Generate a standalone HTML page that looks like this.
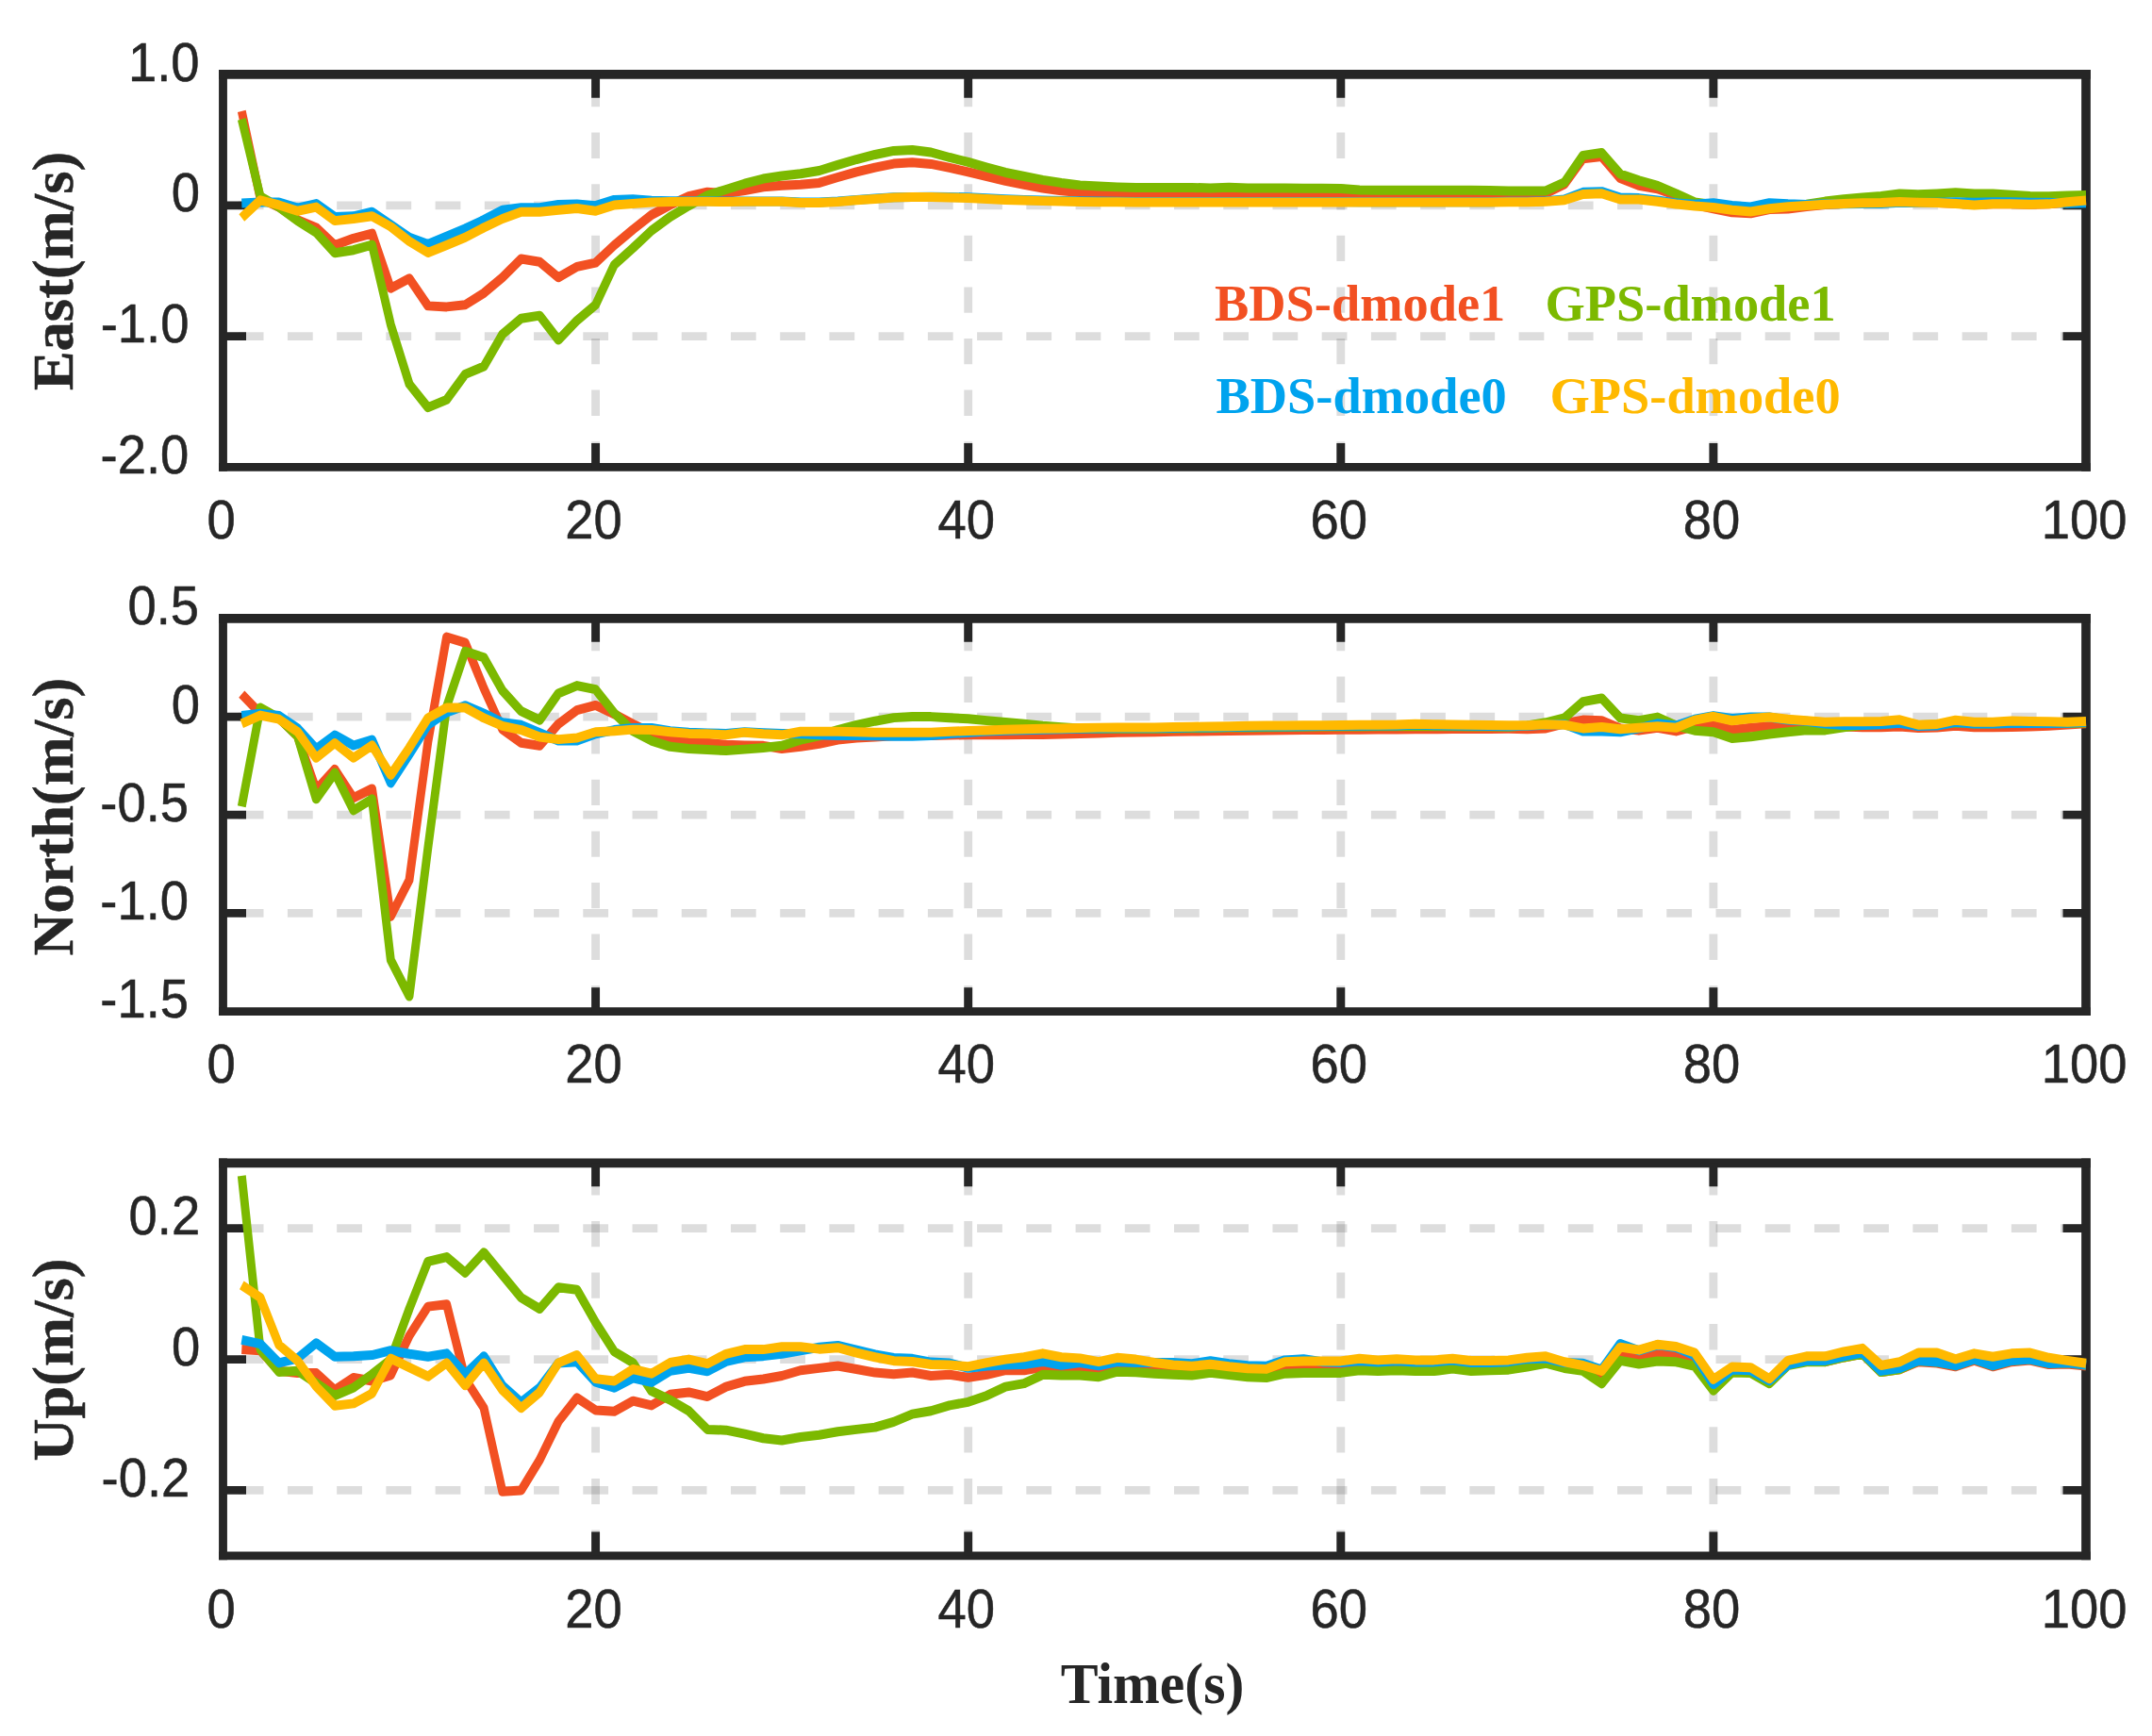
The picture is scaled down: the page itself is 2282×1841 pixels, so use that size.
<!DOCTYPE html>
<html><head><meta charset="utf-8"><title>Velocity error chart</title>
<style>html,body{margin:0;padding:0;background:#fff}body{width:2282px;height:1841px;overflow:hidden}svg{display:block}</style>
</head><body>
<svg width="2282" height="1841" viewBox="0 0 2282 1841">
<rect width="2282" height="1841" fill="#fff"/>
<g stroke="#000" stroke-opacity="0.135" fill="none">
<path d="M252.7 217.8H2212.0" stroke-width="8.75" stroke-dasharray="26.8 25.426"/>
<path d="M252.7 356.6H2212.0" stroke-width="8.75" stroke-dasharray="26.8 25.426"/>
<path d="M631.6 86.0V495.4" stroke-width="8.85" stroke-dasharray="27.3 27.3"/>
<path d="M1026.7 86.0V495.4" stroke-width="8.85" stroke-dasharray="27.3 27.3"/>
<path d="M1421.8 86.0V495.4" stroke-width="8.85" stroke-dasharray="27.3 27.3"/>
<path d="M1816.9 86.0V495.4" stroke-width="8.85" stroke-dasharray="27.3 27.3"/>
</g>
<g stroke="#262626" fill="none">
<path d="M236.50 74.11V499.82" stroke-width="8.85"/>
<path d="M2212.00 74.11V499.82" stroke-width="9.7"/>
<path d="M232.08 78.96H2216.85" stroke-width="9.7"/>
<path d="M232.08 495.45H2216.85" stroke-width="8.74"/>
<path d="M631.60 78.96v24.9M631.60 495.45v-25.4M1026.70 78.96v24.9M1026.70 495.45v-25.4M1421.80 78.96v24.9M1421.80 495.45v-25.4M1816.90 78.96v24.9M1816.90 495.45v-25.4" stroke-width="8.9"/>
<path d="M236.50 217.80h24.5M2212.00 217.80h-24.5M236.50 356.60h24.5M2212.00 356.60h-24.5" stroke-width="8.75"/>
</g>
<g fill="none" stroke-width="8.95" stroke-linejoin="round" transform="scale(1,1.117)">
<polyline stroke="#F25022" points="256.3,105.6 276.0,188.3 295.8,196.6 315.5,208.7 335.3,216.1 355.0,232.8 374.8,226.3 394.5,221.7 414.3,273.7 434.0,264.4 453.8,290.4 473.6,291.3 493.3,289.4 513.1,278.3 532.8,263.4 552.6,245.8 572.3,248.6 592.1,263.4 611.8,253.2 631.6,249.5 651.4,232.8 671.1,218.0 690.9,204.0 710.6,194.7 730.4,186.4 750.1,182.3 769.9,183.6 789.6,180.8 809.4,177.5 829.1,176.2 848.9,175.3 868.7,173.6 888.4,168.3 908.2,163.3 927.9,159.0 947.7,155.4 967.4,154.3 987.2,155.7 1006.9,159.3 1026.7,163.3 1046.5,167.4 1066.2,171.8 1086.0,175.4 1105.7,178.6 1125.5,181.1 1145.2,182.6 1165.0,183.3 1184.7,183.6 1204.5,183.6 1224.2,183.6 1244.0,183.6 1263.8,183.6 1283.5,183.6 1303.3,183.6 1323.0,183.6 1342.8,184.0 1362.5,184.0 1382.3,184.0 1402.0,184.0 1421.8,184.0 1441.6,184.4 1461.3,184.4 1481.1,184.4 1500.8,184.4 1520.6,184.4 1540.3,184.4 1560.1,184.4 1579.8,184.4 1599.6,183.9 1619.3,183.9 1639.1,183.8 1658.9,175.0 1678.6,150.6 1698.4,148.7 1718.1,169.3 1737.9,176.2 1757.6,179.3 1777.4,185.6 1797.1,194.4 1816.9,198.1 1836.7,201.7 1856.4,202.6 1876.2,198.8 1895.9,198.4 1915.7,196.2 1935.4,194.3 1955.2,193.4 1974.9,193.0 1994.7,192.5 2014.4,191.8 2034.2,192.2 2054.0,192.5 2073.7,193.1 2093.5,194.3 2113.2,193.7 2133.0,193.7 2152.7,194.0 2172.5,193.7 2192.2,192.2 2212.0,191.1"/>
<polyline stroke="#7CB900" points="256.3,113.1 276.0,186.4 295.8,196.6 315.5,209.6 335.3,220.7 355.0,240.2 374.8,237.4 394.5,232.4 414.3,308.0 434.0,364.6 453.8,386.9 473.6,379.5 493.3,355.3 513.1,347.9 532.8,317.3 552.6,302.4 572.3,299.6 592.1,322.8 611.8,304.3 631.6,289.4 651.4,251.4 671.1,235.6 690.9,218.9 710.6,205.9 730.4,195.3 750.1,185.5 769.9,179.9 789.6,174.3 809.4,169.7 829.1,166.9 848.9,165.0 868.7,162.0 888.4,156.6 908.2,151.3 927.9,146.8 947.7,143.2 967.4,142.3 987.2,144.6 1006.9,149.5 1026.7,153.9 1046.5,159.0 1066.2,163.8 1086.0,167.4 1105.7,170.9 1125.5,173.6 1145.2,175.8 1165.0,176.8 1184.7,177.6 1204.5,178.1 1224.2,178.1 1244.0,178.1 1263.8,178.1 1283.5,178.6 1303.3,177.9 1323.0,178.6 1342.8,178.6 1362.5,178.6 1382.3,178.8 1402.0,178.8 1421.8,179.0 1441.6,180.4 1461.3,180.6 1481.1,180.6 1500.8,180.6 1520.6,180.6 1540.3,180.6 1560.1,180.6 1579.8,180.8 1599.6,181.2 1619.3,181.2 1639.1,181.2 1658.9,173.2 1678.6,147.6 1698.4,145.1 1718.1,165.1 1737.9,171.3 1757.6,176.3 1777.4,183.8 1797.1,191.9 1816.9,194.4 1836.7,196.3 1856.4,197.5 1876.2,195.6 1895.9,195.4 1915.7,194.1 1935.4,191.2 1955.2,189.0 1974.9,187.6 1994.7,186.1 2014.4,183.9 2034.2,184.7 2054.0,183.9 2073.7,182.9 2093.5,183.9 2113.2,183.9 2133.0,185.0 2152.7,186.1 2172.5,186.4 2192.2,185.8 2212.0,185.4"/>
<polyline stroke="#00A3EE" points="256.3,192.9 276.0,192.0 295.8,192.0 315.5,197.5 335.3,193.4 355.0,205.9 374.8,205.3 394.5,201.2 414.3,213.3 434.0,225.4 453.8,231.9 473.6,224.5 493.3,217.0 513.1,208.7 532.8,199.4 552.6,197.2 572.3,197.2 592.1,194.2 611.8,193.8 631.6,195.3 651.4,189.7 671.1,189.2 690.9,190.5 710.6,191.0 730.4,191.0 750.1,191.0 769.9,191.2 789.6,191.2 809.4,191.2 829.1,191.2 848.9,192.0 868.7,192.1 888.4,191.2 908.2,189.7 927.9,188.5 947.7,187.4 967.4,187.0 987.2,186.9 1006.9,187.0 1026.7,187.4 1046.5,188.3 1066.2,189.2 1086.0,189.7 1105.7,190.3 1125.5,190.6 1145.2,191.0 1165.0,191.2 1184.7,191.3 1204.5,191.5 1224.2,191.5 1244.0,191.5 1263.8,191.5 1283.5,191.5 1303.3,191.5 1323.0,191.5 1342.8,191.5 1362.5,191.5 1382.3,191.5 1402.0,191.5 1421.8,191.5 1441.6,191.7 1461.3,191.7 1481.1,191.7 1500.8,191.7 1520.6,191.7 1540.3,191.7 1560.1,191.7 1579.8,191.7 1599.6,191.3 1619.3,191.3 1639.1,190.8 1658.9,189.4 1678.6,182.5 1698.4,181.9 1718.1,187.5 1737.9,188.1 1757.6,190.3 1777.4,192.8 1797.1,194.0 1816.9,192.6 1836.7,195.1 1856.4,196.4 1876.2,192.6 1895.9,193.7 1915.7,194.3 1935.4,193.7 1955.2,193.7 1974.9,193.4 1994.7,193.4 2014.4,192.2 2034.2,192.5 2054.0,192.2 2073.7,191.7 2093.5,192.2 2113.2,191.9 2133.0,191.9 2152.7,192.2 2172.5,192.2 2192.2,193.1 2212.0,192.8"/>
<polyline stroke="#FFB900" points="256.3,206.8 276.0,190.1 295.8,194.7 315.5,200.3 335.3,196.6 355.0,209.6 374.8,207.7 394.5,205.3 414.3,215.2 434.0,229.1 453.8,239.9 473.6,232.8 493.3,225.4 513.1,216.1 532.8,207.7 552.6,201.2 572.3,201.2 592.1,199.4 611.8,197.9 631.6,200.3 651.4,194.7 671.1,193.4 690.9,192.0 710.6,191.6 730.4,191.4 750.1,191.4 769.9,191.6 789.6,191.4 809.4,191.4 829.1,191.4 848.9,192.5 868.7,192.4 888.4,191.5 908.2,190.1 927.9,188.8 947.7,187.6 967.4,187.2 987.2,187.2 1006.9,187.6 1026.7,187.9 1046.5,188.8 1066.2,189.7 1086.0,190.3 1105.7,190.8 1125.5,191.2 1145.2,191.5 1165.0,191.7 1184.7,191.9 1204.5,192.1 1224.2,192.1 1244.0,192.1 1263.8,192.1 1283.5,192.1 1303.3,192.1 1323.0,192.1 1342.8,192.1 1362.5,192.1 1382.3,192.1 1402.0,192.1 1421.8,192.1 1441.6,192.1 1461.3,192.1 1481.1,192.1 1500.8,192.1 1520.6,192.1 1540.3,192.1 1560.1,192.1 1579.8,192.1 1599.6,191.9 1619.3,191.9 1639.1,191.3 1658.9,190.0 1678.6,184.4 1698.4,183.8 1718.1,189.4 1737.9,189.4 1757.6,191.3 1777.4,193.8 1797.1,195.6 1816.9,196.9 1836.7,199.4 1856.4,201.0 1876.2,198.1 1895.9,196.2 1915.7,195.2 1935.4,194.0 1955.2,193.3 1974.9,192.8 1994.7,192.5 2014.4,191.5 2034.2,192.2 2054.0,192.5 2073.7,193.3 2093.5,194.7 2113.2,193.7 2133.0,193.7 2152.7,194.0 2172.5,193.7 2192.2,191.8 2212.0,190.3"/>
</g>
<g font-family="Liberation Sans, sans-serif" font-size="54.4" fill="#262626" stroke="#262626" stroke-width="0.5">
<text transform="translate(211.6,85.6) scale(1,1.07)" text-anchor="end">1.0</text>
<text transform="translate(211.9,224.4) scale(1,1.07)" text-anchor="end">0</text>
<text transform="translate(200.4,363.2) scale(1,1.07)" text-anchor="end">-1.0</text>
<text transform="translate(200.3,502.0) scale(1,1.07)" text-anchor="end">-2.0</text>
<text transform="translate(234.5,571.2) scale(1,1.07)" text-anchor="middle">0</text>
<text transform="translate(629.6,571.2) scale(1,1.07)" text-anchor="middle">20</text>
<text transform="translate(1024.7,571.2) scale(1,1.07)" text-anchor="middle">40</text>
<text transform="translate(1419.8,571.2) scale(1,1.07)" text-anchor="middle">60</text>
<text transform="translate(1814.9,571.2) scale(1,1.07)" text-anchor="middle">80</text>
<text transform="translate(2210.0,571.2) scale(1,1.07)" text-anchor="middle">100</text>
</g>
<text transform="translate(76.6,287.4) rotate(-90) scale(1.033,1)" text-anchor="middle" font-family="Liberation Serif, serif" font-weight="bold" font-size="60.5" fill="#262626" stroke="#262626" stroke-width="0.5">East(m/s)</text>
<g stroke="#000" stroke-opacity="0.135" fill="none">
<path d="M252.7 760.0H2212.0" stroke-width="8.75" stroke-dasharray="26.8 25.426"/>
<path d="M252.7 864.2H2212.0" stroke-width="8.75" stroke-dasharray="26.8 25.426"/>
<path d="M252.7 968.4H2212.0" stroke-width="8.75" stroke-dasharray="26.8 25.426"/>
<path d="M631.6 663.0V1072.6" stroke-width="8.85" stroke-dasharray="27.3 27.3"/>
<path d="M1026.7 663.0V1072.6" stroke-width="8.85" stroke-dasharray="27.3 27.3"/>
<path d="M1421.8 663.0V1072.6" stroke-width="8.85" stroke-dasharray="27.3 27.3"/>
<path d="M1816.9 663.0V1072.6" stroke-width="8.85" stroke-dasharray="27.3 27.3"/>
</g>
<g stroke="#262626" fill="none">
<path d="M236.50 651.10V1076.97" stroke-width="8.85"/>
<path d="M2212.00 651.10V1076.97" stroke-width="9.7"/>
<path d="M232.08 655.95H2216.85" stroke-width="9.7"/>
<path d="M232.08 1072.60H2216.85" stroke-width="8.74"/>
<path d="M631.60 655.95v24.9M631.60 1072.60v-25.4M1026.70 655.95v24.9M1026.70 1072.60v-25.4M1421.80 655.95v24.9M1421.80 1072.60v-25.4M1816.90 655.95v24.9M1816.90 1072.60v-25.4" stroke-width="8.9"/>
<path d="M236.50 760.00h24.5M2212.00 760.00h-24.5M236.50 864.20h24.5M2212.00 864.20h-24.5M236.50 968.40h24.5M2212.00 968.40h-24.5" stroke-width="8.75"/>
</g>
<g fill="none" stroke-width="8.95" stroke-linejoin="round" transform="scale(1,1.117)">
<polyline stroke="#F25022" points="256.3,659.0 276.0,677.4 295.8,681.7 315.5,699.0 335.3,749.9 355.0,730.4 374.8,757.5 394.5,748.8 414.3,870.1 434.0,835.5 453.8,704.4 473.6,604.8 493.3,610.2 513.1,653.5 532.8,692.5 552.6,705.2 572.3,708.0 592.1,687.4 611.8,674.3 631.6,669.6 651.4,678.0 671.1,687.4 690.9,695.8 710.6,701.4 730.4,703.3 750.1,705.2 769.9,707.1 789.6,707.6 809.4,708.0 829.1,710.8 848.9,708.9 868.7,706.1 888.4,702.4 908.2,700.5 927.9,699.6 947.7,698.6 967.4,698.3 987.2,698.3 1006.9,697.9 1026.7,697.6 1046.5,697.6 1066.2,697.6 1086.0,697.4 1105.7,697.3 1125.5,696.9 1145.2,696.5 1165.0,696.0 1184.7,695.4 1204.5,695.1 1224.2,694.9 1244.0,694.6 1263.8,694.3 1283.5,694.1 1303.3,693.8 1323.0,693.5 1342.8,693.4 1362.5,693.2 1382.3,693.0 1402.0,692.9 1421.8,692.7 1441.6,692.6 1461.3,692.5 1481.1,692.4 1500.8,692.3 1520.6,692.2 1540.3,692.1 1560.1,692.0 1579.8,692.0 1599.6,691.9 1619.3,692.2 1639.1,691.5 1658.9,686.9 1678.6,683.6 1698.4,684.2 1718.1,691.5 1737.9,693.5 1757.6,690.9 1777.4,694.2 1797.1,689.5 1816.9,688.9 1836.7,692.9 1856.4,690.9 1876.2,689.5 1895.9,690.2 1915.7,688.9 1935.4,689.9 1955.2,689.9 1974.9,690.5 1994.7,690.5 2014.4,689.9 2034.2,691.2 2054.0,690.8 2073.7,689.2 2093.5,690.5 2113.2,690.5 2133.0,690.3 2152.7,689.9 2172.5,689.2 2192.2,688.1 2212.0,687.0"/>
<polyline stroke="#7CB900" points="256.3,765.7 276.0,671.9 295.8,681.7 315.5,699.0 335.3,758.6 355.0,733.7 374.8,769.4 394.5,758.6 414.3,911.3 434.0,945.9 453.8,805.2 473.6,670.9 493.3,618.4 513.1,624.3 532.8,655.7 552.6,675.2 572.3,683.7 592.1,658.4 611.8,650.9 631.6,654.6 651.4,677.1 671.1,694.0 690.9,703.3 710.6,708.9 730.4,710.8 750.1,711.7 769.9,712.7 789.6,711.4 809.4,709.9 829.1,708.0 848.9,702.4 868.7,698.6 888.4,693.0 908.2,688.3 927.9,684.6 947.7,681.4 967.4,680.3 987.2,680.5 1006.9,681.5 1026.7,682.4 1046.5,684.1 1066.2,685.7 1086.0,687.4 1105.7,689.2 1125.5,690.4 1145.2,691.6 1165.0,691.8 1184.7,691.9 1204.5,691.9 1224.2,691.9 1244.0,691.6 1263.8,691.4 1283.5,691.1 1303.3,690.8 1323.0,690.6 1342.8,690.4 1362.5,690.2 1382.3,690.1 1402.0,689.9 1421.8,689.7 1441.6,689.7 1461.3,689.6 1481.1,689.6 1500.8,689.5 1520.6,689.5 1540.3,689.6 1560.1,689.7 1579.8,689.9 1599.6,690.0 1619.3,688.9 1639.1,686.0 1658.9,681.6 1678.6,666.2 1698.4,662.9 1718.1,681.6 1737.9,684.2 1757.6,680.9 1777.4,688.9 1797.1,693.5 1816.9,694.9 1836.7,700.9 1856.4,699.5 1876.2,696.9 1895.9,694.9 1915.7,693.1 1935.4,693.3 1955.2,690.5 1974.9,688.5 1994.7,687.5 2014.4,686.4 2034.2,688.5 2054.0,688.1 2073.7,686.2 2093.5,687.1 2113.2,687.1 2133.0,686.7 2152.7,686.7 2172.5,686.7 2192.2,686.7 2212.0,686.2"/>
<polyline stroke="#00A3EE" points="256.3,679.5 276.0,677.4 295.8,679.5 315.5,691.4 335.3,710.9 355.0,697.9 374.8,707.7 394.5,702.3 414.3,743.4 434.0,716.3 453.8,688.2 473.6,676.3 493.3,669.8 513.1,677.4 532.8,686.0 552.6,688.3 572.3,695.8 592.1,703.3 611.8,703.3 631.6,696.8 651.4,693.0 671.1,691.1 690.9,691.1 710.6,694.0 730.4,695.3 750.1,696.0 769.9,696.4 789.6,694.9 809.4,695.8 829.1,696.4 848.9,696.8 868.7,697.7 888.4,698.3 908.2,698.3 927.9,698.6 947.7,699.0 967.4,699.0 987.2,698.3 1006.9,696.5 1026.7,695.4 1046.5,694.3 1066.2,693.5 1086.0,693.1 1105.7,692.7 1125.5,692.3 1145.2,691.9 1165.0,691.6 1184.7,691.4 1204.5,691.4 1224.2,691.4 1244.0,691.1 1263.8,690.8 1283.5,690.6 1303.3,690.3 1323.0,690.0 1342.8,689.8 1362.5,689.7 1382.3,689.5 1402.0,689.4 1421.8,689.2 1441.6,689.1 1461.3,689.0 1481.1,688.9 1500.8,688.1 1520.6,688.7 1540.3,688.9 1560.1,689.1 1579.8,689.3 1599.6,689.5 1619.3,689.1 1639.1,688.2 1658.9,687.5 1678.6,694.2 1698.4,694.2 1718.1,694.9 1737.9,691.5 1757.6,686.9 1777.4,688.9 1797.1,682.9 1816.9,679.6 1836.7,682.2 1856.4,680.9 1876.2,680.9 1895.9,683.6 1915.7,684.6 1935.4,687.1 1955.2,688.5 1974.9,688.5 1994.7,687.8 2014.4,686.4 2034.2,689.4 2054.0,688.9 2073.7,685.7 2093.5,687.2 2113.2,687.2 2133.0,686.7 2152.7,686.7 2172.5,686.7 2192.2,686.4 2212.0,685.6"/>
<polyline stroke="#FFB900" points="256.3,687.1 276.0,679.1 295.8,682.8 315.5,694.7 335.3,719.6 355.0,705.5 374.8,719.6 394.5,707.7 414.3,735.8 434.0,709.9 453.8,681.7 473.6,671.9 493.3,671.9 513.1,681.7 532.8,689.3 552.6,693.0 572.3,699.6 592.1,702.0 611.8,700.5 631.6,694.9 651.4,694.0 671.1,692.6 690.9,693.0 710.6,694.9 730.4,696.4 750.1,696.8 769.9,697.7 789.6,695.3 809.4,696.8 829.1,697.7 848.9,694.5 868.7,694.5 888.4,694.5 908.2,694.9 927.9,695.3 947.7,695.4 967.4,695.4 987.2,695.3 1006.9,694.5 1026.7,693.8 1046.5,693.3 1066.2,692.7 1086.0,692.3 1105.7,691.9 1125.5,691.5 1145.2,691.1 1165.0,690.8 1184.7,690.6 1204.5,690.6 1224.2,690.6 1244.0,690.3 1263.8,690.0 1283.5,689.7 1303.3,689.5 1323.0,689.2 1342.8,689.0 1362.5,688.9 1382.3,688.7 1402.0,688.6 1421.8,688.4 1441.6,688.3 1461.3,688.2 1481.1,688.1 1500.8,687.3 1520.6,687.8 1540.3,688.1 1560.1,688.3 1579.8,688.5 1599.6,688.7 1619.3,688.6 1639.1,687.8 1658.9,688.2 1678.6,691.5 1698.4,690.2 1718.1,692.2 1737.9,690.9 1757.6,689.5 1777.4,690.9 1797.1,683.6 1816.9,680.2 1836.7,684.2 1856.4,682.2 1876.2,680.9 1895.9,682.9 1915.7,684.2 1935.4,685.5 1955.2,685.2 1974.9,685.2 1994.7,684.8 2014.4,683.4 2034.2,688.2 2054.0,687.5 2073.7,683.7 2093.5,685.5 2113.2,685.5 2133.0,684.5 2152.7,684.8 2172.5,685.2 2192.2,685.5 2212.0,684.8"/>
</g>
<g font-family="Liberation Sans, sans-serif" font-size="54.4" fill="#262626" stroke="#262626" stroke-width="0.5">
<text transform="translate(211.0,662.4) scale(1,1.07)" text-anchor="end">0.5</text>
<text transform="translate(211.9,766.6) scale(1,1.07)" text-anchor="end">0</text>
<text transform="translate(200.0,870.8) scale(1,1.07)" text-anchor="end">-0.5</text>
<text transform="translate(200.0,975.0) scale(1,1.07)" text-anchor="end">-1.0</text>
<text transform="translate(200.0,1079.2) scale(1,1.07)" text-anchor="end">-1.5</text>
<text transform="translate(234.5,1148.4) scale(1,1.07)" text-anchor="middle">0</text>
<text transform="translate(629.6,1148.4) scale(1,1.07)" text-anchor="middle">20</text>
<text transform="translate(1024.7,1148.4) scale(1,1.07)" text-anchor="middle">40</text>
<text transform="translate(1419.8,1148.4) scale(1,1.07)" text-anchor="middle">60</text>
<text transform="translate(1814.9,1148.4) scale(1,1.07)" text-anchor="middle">80</text>
<text transform="translate(2210.0,1148.4) scale(1,1.07)" text-anchor="middle">100</text>
</g>
<text transform="translate(76.6,866.1) rotate(-90) scale(1.033,1)" text-anchor="middle" font-family="Liberation Serif, serif" font-weight="bold" font-size="60.5" fill="#262626" stroke="#262626" stroke-width="0.5">North(m/s)</text>
<g stroke="#000" stroke-opacity="0.135" fill="none">
<path d="M252.7 1302.6H2212.0" stroke-width="8.75" stroke-dasharray="26.8 25.426"/>
<path d="M252.7 1441.5H2212.0" stroke-width="8.75" stroke-dasharray="26.8 25.426"/>
<path d="M252.7 1580.4H2212.0" stroke-width="8.75" stroke-dasharray="26.8 25.426"/>
<path d="M631.6 1240.3V1649.8" stroke-width="8.85" stroke-dasharray="27.3 27.3"/>
<path d="M1026.7 1240.3V1649.8" stroke-width="8.85" stroke-dasharray="27.3 27.3"/>
<path d="M1421.8 1240.3V1649.8" stroke-width="8.85" stroke-dasharray="27.3 27.3"/>
<path d="M1816.9 1240.3V1649.8" stroke-width="8.85" stroke-dasharray="27.3 27.3"/>
</g>
<g stroke="#262626" fill="none">
<path d="M236.50 1228.45V1654.17" stroke-width="8.85"/>
<path d="M2212.00 1228.45V1654.17" stroke-width="9.7"/>
<path d="M232.08 1233.30H2216.85" stroke-width="9.7"/>
<path d="M232.08 1649.80H2216.85" stroke-width="8.74"/>
<path d="M631.60 1233.30v24.9M631.60 1649.80v-25.4M1026.70 1233.30v24.9M1026.70 1649.80v-25.4M1421.80 1233.30v24.9M1421.80 1649.80v-25.4M1816.90 1233.30v24.9M1816.90 1649.80v-25.4" stroke-width="8.9"/>
<path d="M236.50 1302.60h24.5M2212.00 1302.60h-24.5M236.50 1441.50h24.5M2212.00 1441.50h-24.5M236.50 1580.40h24.5M2212.00 1580.40h-24.5" stroke-width="8.75"/>
</g>
<g fill="none" stroke-width="8.95" stroke-linejoin="round" transform="scale(1,1.117)">
<polyline stroke="#F25022" points="256.3,1281.1 276.0,1282.2 295.8,1301.5 315.5,1303.6 335.3,1303.6 355.0,1319.7 374.8,1307.9 394.5,1311.1 414.3,1305.7 434.0,1268.3 453.8,1240.5 473.6,1238.3 493.3,1309.0 513.1,1336.8 532.8,1416.0 552.6,1414.9 572.3,1386.0 592.1,1349.6 611.8,1327.1 631.6,1338.9 651.4,1340.0 671.1,1330.1 690.9,1334.3 710.6,1323.9 730.4,1321.8 750.1,1325.9 769.9,1316.6 789.6,1311.4 809.4,1309.3 829.1,1306.2 848.9,1301.0 868.7,1298.9 888.4,1296.8 908.2,1299.9 927.9,1303.1 947.7,1304.7 967.4,1303.1 987.2,1306.2 1006.9,1305.1 1026.7,1307.8 1046.5,1305.1 1066.2,1301.0 1086.0,1301.0 1105.7,1297.9 1125.5,1301.6 1145.2,1298.3 1165.0,1300.8 1184.7,1296.3 1204.5,1297.4 1224.2,1299.5 1244.0,1301.1 1263.8,1302.1 1283.5,1300.0 1303.3,1302.1 1323.0,1304.0 1342.8,1304.6 1362.5,1299.2 1382.3,1298.5 1402.0,1298.5 1421.8,1298.5 1441.6,1296.2 1461.3,1297.3 1481.1,1296.3 1500.8,1297.3 1520.6,1297.3 1540.3,1295.4 1560.1,1297.5 1579.8,1297.1 1599.6,1296.6 1619.3,1294.1 1639.1,1291.0 1658.9,1296.3 1678.6,1299.0 1698.4,1307.0 1718.1,1287.0 1737.9,1288.3 1757.6,1285.7 1777.4,1286.3 1797.1,1291.0 1816.9,1315.0 1836.7,1300.3 1856.4,1301.0 1876.2,1311.0 1895.9,1293.7 1915.7,1290.3 1935.4,1292.9 1955.2,1288.7 1974.9,1285.4 1994.7,1302.7 2014.4,1300.1 2034.2,1292.9 2054.0,1294.2 2073.7,1297.5 2093.5,1291.5 2113.2,1297.5 2133.0,1292.9 2152.7,1291.5 2172.5,1295.5 2192.2,1294.9 2212.0,1296.9"/>
<polyline stroke="#7CB900" points="256.3,1116.3 276.0,1281.1 295.8,1302.5 315.5,1301.5 335.3,1313.2 355.0,1325.0 374.8,1317.5 394.5,1304.7 414.3,1290.8 434.0,1242.6 453.8,1197.7 473.6,1193.4 493.3,1208.4 513.1,1189.1 532.8,1210.5 552.6,1231.9 572.3,1242.6 592.1,1222.3 611.8,1224.4 631.6,1255.5 651.4,1283.3 671.1,1293.7 690.9,1320.7 710.6,1329.1 730.4,1339.5 750.1,1357.1 769.9,1357.8 789.6,1361.3 809.4,1365.5 829.1,1367.5 848.9,1364.4 868.7,1362.3 888.4,1359.2 908.2,1357.1 927.9,1355.1 947.7,1349.9 967.4,1342.6 987.2,1339.5 1006.9,1334.3 1026.7,1331.1 1046.5,1324.9 1066.2,1316.6 1086.0,1313.5 1105.7,1305.1 1125.5,1305.8 1145.2,1305.7 1165.0,1307.3 1184.7,1302.3 1204.5,1302.8 1224.2,1304.1 1244.0,1305.0 1263.8,1305.7 1283.5,1303.4 1303.3,1305.3 1323.0,1307.3 1342.8,1308.0 1362.5,1304.1 1382.3,1303.4 1402.0,1303.4 1421.8,1303.4 1441.6,1301.1 1461.3,1301.8 1481.1,1301.1 1500.8,1301.8 1520.6,1301.8 1540.3,1299.5 1560.1,1301.8 1579.8,1301.1 1599.6,1300.5 1619.3,1297.7 1639.1,1294.3 1658.9,1299.0 1678.6,1301.6 1698.4,1313.6 1718.1,1291.7 1737.9,1295.0 1757.6,1292.3 1777.4,1293.0 1797.1,1297.0 1816.9,1320.3 1836.7,1303.0 1856.4,1303.6 1876.2,1313.6 1895.9,1296.3 1915.7,1293.0 1935.4,1292.9 1955.2,1288.7 1974.9,1285.4 1994.7,1302.7 2014.4,1300.1 2034.2,1291.8 2054.0,1293.1 2073.7,1296.5 2093.5,1290.5 2113.2,1296.5 2133.0,1291.8 2152.7,1290.5 2172.5,1294.5 2192.2,1293.8 2212.0,1295.8"/>
<polyline stroke="#00A3EE" points="256.3,1272.1 276.0,1275.8 295.8,1294.0 315.5,1289.7 335.3,1275.1 355.0,1288.0 374.8,1287.6 394.5,1286.5 414.3,1282.2 434.0,1285.4 453.8,1288.0 473.6,1285.0 493.3,1304.7 513.1,1287.6 532.8,1315.4 552.6,1331.4 572.3,1317.5 592.1,1294.0 611.8,1292.9 631.6,1312.2 651.4,1317.5 671.1,1308.3 690.9,1312.4 710.6,1301.6 730.4,1298.9 750.1,1302.0 769.9,1292.7 789.6,1288.5 809.4,1287.5 829.1,1285.4 848.9,1282.3 868.7,1279.1 888.4,1277.5 908.2,1281.6 927.9,1286.0 947.7,1289.1 967.4,1289.9 987.2,1293.3 1006.9,1294.1 1026.7,1298.9 1046.5,1296.8 1066.2,1295.8 1086.0,1295.4 1105.7,1292.7 1125.5,1296.2 1145.2,1293.6 1165.0,1296.6 1184.7,1292.9 1204.5,1293.6 1224.2,1293.6 1244.0,1293.6 1263.8,1294.7 1283.5,1292.0 1303.3,1294.7 1323.0,1296.6 1342.8,1297.0 1362.5,1291.3 1382.3,1290.2 1402.0,1292.9 1421.8,1293.6 1441.6,1292.0 1461.3,1293.1 1481.1,1292.0 1500.8,1293.1 1520.6,1293.1 1540.3,1291.5 1560.1,1293.6 1579.8,1293.6 1599.6,1292.9 1619.3,1290.2 1639.1,1289.7 1658.9,1293.7 1678.6,1294.3 1698.4,1300.3 1718.1,1275.7 1737.9,1282.3 1757.6,1277.0 1777.4,1279.3 1797.1,1287.0 1816.9,1314.3 1836.7,1300.3 1856.4,1301.0 1876.2,1311.0 1895.9,1295.7 1915.7,1291.7 1935.4,1291.8 1955.2,1287.7 1974.9,1284.3 1994.7,1301.6 2014.4,1299.0 2034.2,1291.8 2054.0,1293.1 2073.7,1296.5 2093.5,1290.5 2113.2,1296.5 2133.0,1291.8 2152.7,1290.5 2172.5,1294.5 2192.2,1293.8 2212.0,1295.8"/>
<polyline stroke="#FFB900" points="256.3,1220.1 276.0,1231.9 295.8,1276.9 315.5,1291.8 335.3,1316.4 355.0,1334.6 374.8,1332.5 394.5,1322.9 414.3,1289.7 434.0,1298.3 453.8,1306.8 473.6,1294.0 493.3,1315.4 513.1,1294.0 532.8,1319.7 552.6,1336.8 572.3,1321.8 592.1,1294.0 611.8,1286.5 631.6,1309.0 651.4,1311.1 671.1,1299.9 690.9,1304.1 710.6,1293.7 730.4,1290.6 750.1,1294.7 769.9,1285.4 789.6,1281.2 809.4,1281.2 829.1,1278.7 848.9,1278.7 868.7,1280.8 888.4,1279.5 908.2,1284.3 927.9,1288.5 947.7,1292.0 967.4,1292.7 987.2,1295.4 1006.9,1295.8 1026.7,1297.4 1046.5,1293.7 1066.2,1290.6 1086.0,1288.5 1105.7,1285.0 1125.5,1288.5 1145.2,1289.5 1165.0,1292.9 1184.7,1289.0 1204.5,1290.6 1224.2,1293.6 1244.0,1295.9 1263.8,1297.0 1283.5,1295.2 1303.3,1297.5 1323.0,1299.3 1342.8,1299.8 1362.5,1292.9 1382.3,1292.2 1402.0,1292.2 1421.8,1292.2 1441.6,1289.9 1461.3,1291.3 1481.1,1290.2 1500.8,1291.3 1520.6,1291.3 1540.3,1289.9 1560.1,1291.8 1579.8,1291.8 1599.6,1291.3 1619.3,1289.0 1639.1,1287.7 1658.9,1293.0 1678.6,1296.3 1698.4,1301.6 1718.1,1279.0 1737.9,1281.7 1757.6,1276.4 1777.4,1278.4 1797.1,1284.3 1816.9,1309.6 1836.7,1297.7 1856.4,1298.3 1876.2,1309.0 1895.9,1291.7 1915.7,1287.7 1935.4,1287.7 1955.2,1283.3 1974.9,1280.1 1994.7,1296.3 2014.4,1293.0 2034.2,1284.3 2054.0,1284.3 2073.7,1290.3 2093.5,1285.0 2113.2,1288.1 2133.0,1285.0 2152.7,1284.3 2172.5,1289.0 2192.2,1291.7 2212.0,1294.3"/>
</g>
<g font-family="Liberation Sans, sans-serif" font-size="54.4" fill="#262626" stroke="#262626" stroke-width="0.5">
<text transform="translate(212.2,1309.2) scale(1,1.07)" text-anchor="end">0.2</text>
<text transform="translate(212.2,1448.1) scale(1,1.07)" text-anchor="end">0</text>
<text transform="translate(201.3,1587.0) scale(1,1.07)" text-anchor="end">-0.2</text>
<text transform="translate(234.5,1725.6) scale(1,1.07)" text-anchor="middle">0</text>
<text transform="translate(629.6,1725.6) scale(1,1.07)" text-anchor="middle">20</text>
<text transform="translate(1024.7,1725.6) scale(1,1.07)" text-anchor="middle">40</text>
<text transform="translate(1419.8,1725.6) scale(1,1.07)" text-anchor="middle">60</text>
<text transform="translate(1814.9,1725.6) scale(1,1.07)" text-anchor="middle">80</text>
<text transform="translate(2210.0,1725.6) scale(1,1.07)" text-anchor="middle">100</text>
</g>
<text transform="translate(76.6,1442.0) rotate(-90) scale(1.033,1)" text-anchor="middle" font-family="Liberation Serif, serif" font-weight="bold" font-size="60.5" fill="#262626" stroke="#262626" stroke-width="0.5">Up(m/s)</text>
<g font-family="Liberation Serif, serif" font-weight="bold" font-size="54.4">
<text transform="translate(1288,340.3) scale(1,1.01)" fill="#F25022">BDS-dmode1</text>
<text transform="translate(1638.5,340.3) scale(1,1.01)" fill="#7CB900">GPS-dmode1</text>
<text transform="translate(1289.5,438) scale(1,1.01)" fill="#00A3EE">BDS-dmode0</text>
<text transform="translate(1643.5,438) scale(1,1.01)" fill="#FFB900">GPS-dmode0</text>
</g>
<text transform="translate(1222,1806) scale(1,1.024)" text-anchor="middle" font-family="Liberation Serif, serif" font-weight="bold" font-size="59.7" fill="#262626">Time(s)</text>
</svg>
</body></html>
